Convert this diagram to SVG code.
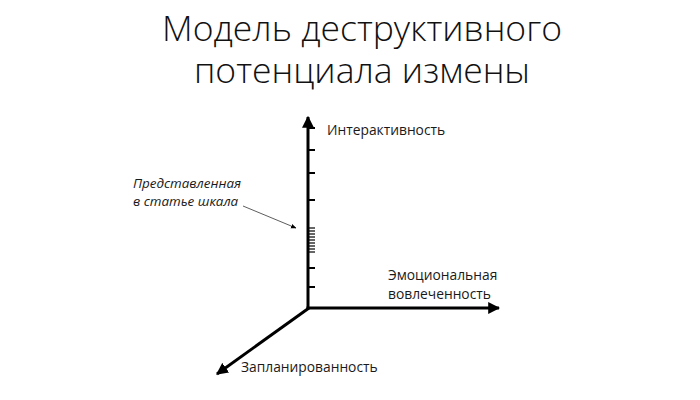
<svg xmlns="http://www.w3.org/2000/svg" width="700" height="400" viewBox="0 0 700 400">
<style>
.title{font-family:"Open Sans","Liberation Sans",sans-serif;font-weight:300;font-size:35.5px;fill:#111;text-anchor:middle}
.lbl{font-family:"Open Sans","Liberation Sans",sans-serif;font-size:13.8px;fill:#1a1a1a}
.note{font-family:"Open Sans","Liberation Sans",sans-serif;font-style:italic;font-size:13.4px;fill:#1a1a1a}
.axis{stroke:#000;stroke-width:3;fill:none}
.tick{stroke:#000;stroke-width:2}
.ptr{stroke:#333;stroke-width:0.8;fill:none}
</style>
<defs>
<marker id="ah" viewBox="0 0 10 10" refX="9" refY="5" markerWidth="4" markerHeight="4" orient="auto" markerUnits="strokeWidth">
<path d="M0,0 L10,5 L0,10 z" fill="#000"/>
</marker>
<marker id="ahs" viewBox="0 0 10 10" refX="9" refY="5" markerWidth="7" markerHeight="7" orient="auto" markerUnits="strokeWidth">
<path d="M0,1 L10,5 L0,9 z" fill="#000"/>
</marker>
</defs>
<rect width="700" height="400" fill="#fff"/>
<g id="title">
<text class="title" x="362" y="41">Модель деструктивного</text>
<text class="title" x="362" y="83">потенциала измены</text>
</g>
<g id="connectors">
<line class="axis" x1="308" y1="309" x2="308" y2="117" marker-end="url(#ah)"/>
<line class="axis" x1="306.5" y1="308" x2="499" y2="308" marker-end="url(#ah)"/>
<line class="axis" x1="309" y1="308" x2="217" y2="374" marker-end="url(#ah)"/>
<g class="tick">
<line x1="308" y1="128" x2="315" y2="128"/>
<line x1="308" y1="150" x2="315" y2="150"/>
<line x1="308" y1="173" x2="315" y2="173"/>
<line x1="308" y1="200" x2="315" y2="200"/>
<line x1="308" y1="268" x2="315" y2="268"/>
<line x1="308" y1="287" x2="315" y2="287"/>
</g>
<g stroke="#000" stroke-width="1.2">
<line x1="308" y1="228" x2="315" y2="228"/>
<line x1="308" y1="231" x2="315" y2="231"/>
<line x1="308" y1="234" x2="315" y2="234"/>
<line x1="308" y1="237" x2="315" y2="237"/>
<line x1="308" y1="240" x2="315" y2="240"/>
<line x1="308" y1="243" x2="315" y2="243"/>
<line x1="308" y1="246" x2="315" y2="246"/>
<line x1="308" y1="249" x2="315" y2="249"/>
<line x1="308" y1="252" x2="315" y2="252"/>
</g>
<line class="ptr" x1="243" y1="206" x2="296" y2="228" marker-end="url(#ahs)"/>
</g>
<g id="interactivity"><text class="lbl" x="327" y="135">Интерактивность</text></g>
<g id="emotional"><text class="lbl" x="388" y="280">Эмоциональная</text><text class="lbl" x="388" y="299">вовлеченность</text></g>
<g id="planned"><text class="lbl" x="241" y="372">Запланированность</text></g>
<g id="scale-note"><text class="note" x="133" y="188">Представленная</text><text class="note" x="133" y="206">в статье шкала</text></g>
</svg>
